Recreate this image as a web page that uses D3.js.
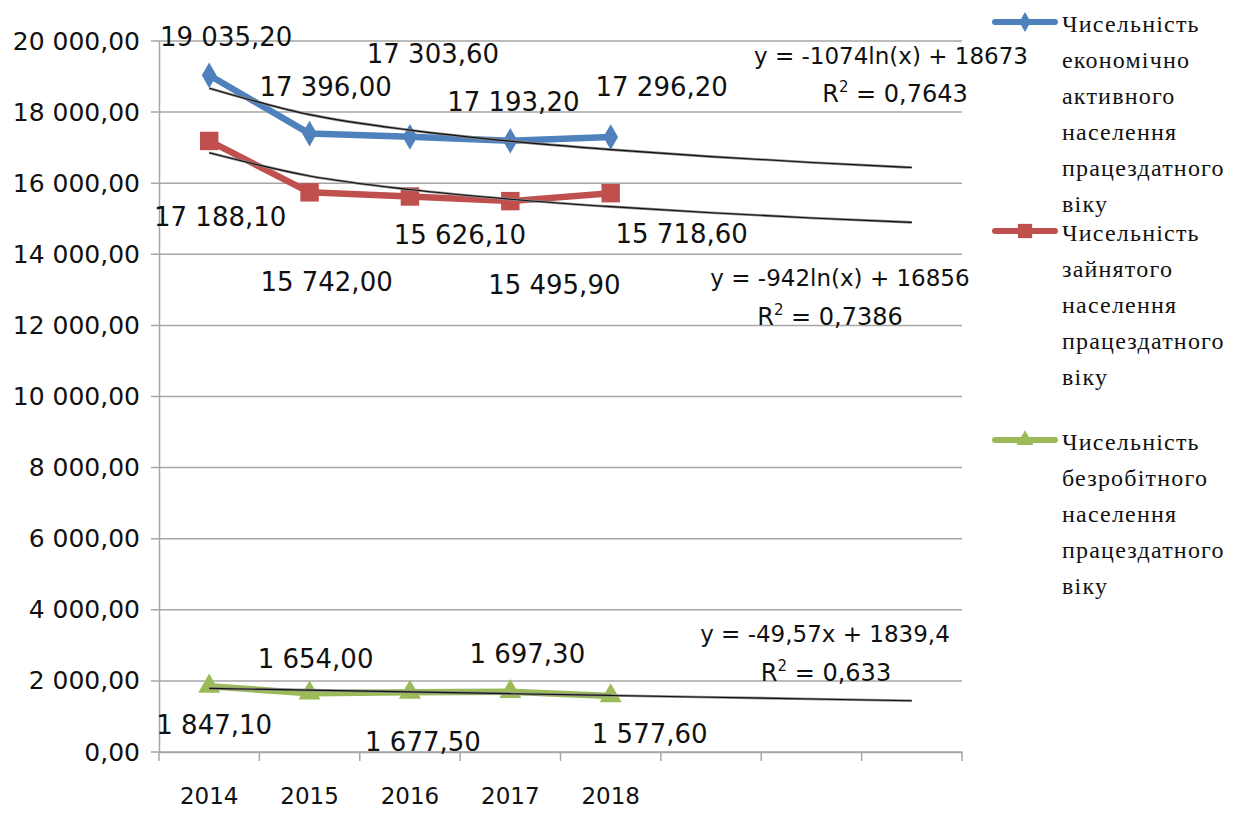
<!DOCTYPE html>
<html>
<head>
<meta charset="utf-8">
<script src="https://cdn.jsdelivr.net/npm/d3@7"></script>
<style>
  body { margin: 0; background: #fff; }
</style>
</head>
<body>
<div id="vis-container"></div>
<script>
// categories (3 empty slots at the end are forecast room for the trendlines)
var years = ["2014", "2015", "2016", "2017", "2018", "", "", ""];
var yTicks = [0, 2000, 4000, 6000, 8000, 10000, 12000, 14000, 16000, 18000, 20000];

// series values
var active = [19035.2, 17396.0, 17303.6, 17193.2, 17296.2];
var employed = [17188.1, 15742.0, 15626.1, 15495.9, 15718.6];
var unemployed = [1847.1, 1654.0, 1677.5, 1697.3, 1577.6];

// legend names
var names = [
  ["Чисельність", "економічно", "активного", "населення", "працездатного", "віку"],
  ["Чисельність", "зайнятого", "населення", "працездатного", "віку"],
  ["Чисельність", "безробітного", "населення", "працездатного", "віку"]
];

// trendline coefficients as printed on the chart
var trendActive = { type: "log", a: -1074, b: 18673, eq: "y = -1074ln(x) + 18673", r2: "0,7643" };
var trendEmployed = { type: "log", a: -942, b: 16856, eq: "y = -942ln(x) + 16856", r2: "0,7386" };
var trendUnemployed = { type: "lin", a: -49.57, b: 1839.4, eq: "y = -49,57x + 1839,4", r2: "0,633" };

var SANS = "'DejaVu Sans', 'Liberation Sans', sans-serif";
var SERIF = "'Liberation Serif', 'Times New Roman', 'DejaVu Serif', serif";

var width = 1242, height = 816;
var plotLeft = 159, plotRight = 962, plotTop = 41, plotBottom = 752;

var svg = d3.select("#vis-container").append("svg")
  .attr("width", width).attr("height", height);

var x = d3.scaleBand().domain(d3.range(years.length)).range([plotLeft, plotRight]);
var y = d3.scaleLinear().domain([0, 20000]).range([plotBottom, plotTop]);
var cx = function(i) { return x(i) + x.bandwidth() / 2; };

var fmt = function(v) {
  var s = d3.format(",.2f")(v);
  return s.replace(/,/g, " ").replace(".", ",");
};

// gridlines
svg.append("g").selectAll("line").data(yTicks).join("line")
  .attr("x1", plotLeft - 8).attr("x2", plotRight)
  .attr("y1", function(d) { return y(d); }).attr("y2", function(d) { return y(d); })
  .attr("stroke", "#a6a6a6").attr("stroke-width", 1.5);

// y axis
var yAxis = svg.append("g").attr("transform", "translate(" + plotLeft + ",0)")
  .call(d3.axisLeft(y).tickValues(yTicks).tickSize(0).tickPadding(19).tickFormat(fmt));
yAxis.select(".domain").attr("stroke", "#a6a6a6").attr("stroke-width", 1.5);
yAxis.selectAll("text").attr("font-size", 25).attr("font-family", SANS).attr("fill", "#111");

// x axis
var xAxis = svg.append("g").attr("transform", "translate(0," + plotBottom + ")")
  .call(d3.axisBottom(x).tickSize(0).tickPadding(36).tickFormat(function(i) { return years[i]; }));
xAxis.select(".domain").attr("stroke", "#a6a6a6").attr("stroke-width", 1.5);
xAxis.selectAll("text").attr("font-size", 23).attr("font-family", SANS).attr("fill", "#111");
svg.append("g").selectAll("line").data(d3.range(years.length + 1)).join("line")
  .attr("x1", function(i) { return plotLeft + i * x.bandwidth(); })
  .attr("x2", function(i) { return plotLeft + i * x.bandwidth(); })
  .attr("y1", plotBottom).attr("y2", plotBottom + 9)
  .attr("stroke", "#a6a6a6").attr("stroke-width", 1.5);

var series = [
  { values: active, color: "#4f81bd", symbol: d3.symbolDiamond, size: 190 },
  { values: employed, color: "#c0504d", symbol: d3.symbolSquare, size: 340 },
  { values: unemployed, color: "#9bbb59", symbol: d3.symbolTriangle, size: 210 }
];

var line = d3.line().x(function(d, i) { return cx(i); }).y(function(d) { return y(d); });

series.forEach(function(s) {
  svg.append("path").attr("d", line(s.values))
    .attr("fill", "none").attr("stroke", s.color).attr("stroke-width", 6.5)
    .attr("stroke-linejoin", "round");
  svg.append("g").selectAll("path").data(s.values).join("path")
    .attr("transform", function(d, i) { return "translate(" + cx(i) + "," + y(d) + ")"; })
    .attr("d", d3.symbol().type(s.symbol).size(s.size))
    .attr("fill", s.color);
});

// trendlines (drawn over the series, as in the original)
function trendValue(t, k) { return t.type === "log" ? t.a * Math.log(k) + t.b : t.a * k + t.b; }
var trendLine = d3.line()
  .x(function(d) { return cx(d); })
  .curve(d3.curveMonotoneX);
[trendActive, trendEmployed, trendUnemployed].forEach(function(t) {
  var d = trendLine.y(function(k) { return y(trendValue(t, k + 1)); })(d3.range(years.length));
  svg.append("path").attr("d", d)
    .attr("fill", "none").attr("stroke", "#8a8a8a").attr("stroke-width", 2.6);
  svg.append("path").attr("d", d)
    .attr("fill", "none").attr("stroke", "#111").attr("stroke-width", 1.1);
});

// data label offsets from each point (dx, dy of text baseline centre)
var labelOffsets = [
  [[17, -29], [16, -38], [23, -74], [3, -30], [51, -41]],
  [[11, 85], [17, 99], [50, 48], [44, 93], [71, 50]],
  [[5, 48], [6, -25], [13, 59], [17, -29], [39, 47]]
];
series.forEach(function(s, si) {
  svg.append("g").selectAll("text").data(s.values).join("text")
    .attr("x", function(d, i) { return cx(i) + labelOffsets[si][i][0]; })
    .attr("y", function(d, i) { return y(d) + labelOffsets[si][i][1]; })
    .attr("text-anchor", "middle").attr("font-size", 26).attr("font-family", SANS).attr("fill", "#111")
    .text(function(d) { return fmt(d); });
});

// trendline equations
var eqPos = [[891, 64, 895, 102], [840, 286, 830, 325], [825, 642, 826, 681]];
[trendActive, trendEmployed, trendUnemployed].forEach(function(t, i) {
  var p = eqPos[i];
  svg.append("text").attr("x", p[0]).attr("y", p[1]).attr("text-anchor", "middle")
    .attr("font-size", 23).attr("font-family", SANS).attr("fill", "#111").text(t.eq);
  var r = svg.append("text").attr("x", p[2]).attr("y", p[3]).attr("text-anchor", "middle")
    .attr("font-size", 24).attr("font-family", SANS).attr("fill", "#111");
  r.append("tspan").text("R");
  r.append("tspan").attr("dy", -10).attr("font-size", 15).text("2");
  r.append("tspan").attr("dy", 10).text(" = " + t.r2);
});

// legend
var legendY = [22, 231, 440];
var legend = svg.append("g");
series.forEach(function(s, si) {
  var g = legend.append("g").attr("transform", "translate(0," + legendY[si] + ")");
  g.append("line").attr("x1", 995).attr("x2", 1055).attr("y1", 0).attr("y2", 0)
    .attr("stroke", s.color).attr("stroke-width", 6).attr("stroke-linecap", "round");
  g.append("path").attr("transform", "translate(1025,0)")
    .attr("d", d3.symbol().type(s.symbol).size(s.size * 0.6)).attr("fill", s.color);
  g.selectAll("text").data(names[si]).join("text")
    .attr("x", 1062).attr("y", function(d, i) { return 10 + i * 36; })
    .attr("font-size", 24).attr("font-family", SERIF).attr("letter-spacing", 1.2)
    .attr("fill", "#111")
    .text(function(d) { return d; });
});
</script>
</body>
</html>
